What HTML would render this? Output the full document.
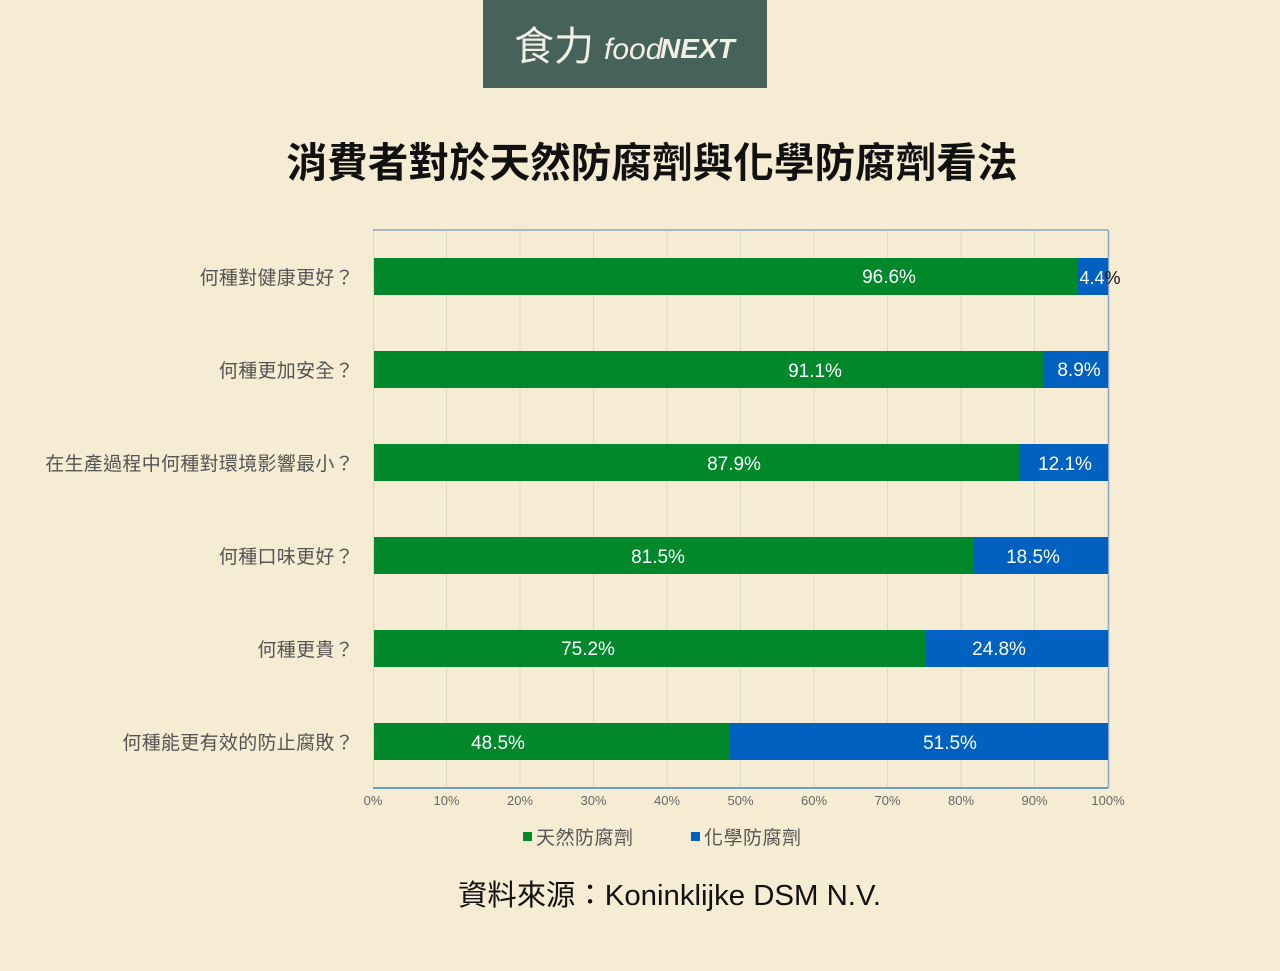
<!DOCTYPE html>
<html><head><meta charset="utf-8"><style>
html,body{margin:0;padding:0;background:#f6ecd3;}
svg{display:block;}
text{font-family:"Liberation Sans","Noto Sans CJK TC",sans-serif;}
</style></head><body>
<svg width="1280" height="971" viewBox="0 0 1280 971" xmlns="http://www.w3.org/2000/svg">
<rect width="1280" height="971" fill="#f6ecd3"/>
<rect x="483" y="0" width="284" height="88" fill="#46625a"/>
<text x="514" y="60" font-family="Noto Serif CJK SC,serif" font-size="40" fill="#f3efe6">食力</text>
<text x="604" y="59" font-size="30" font-style="italic" fill="#f3efe6" font-family="Liberation Serif,serif">food</text>
<text x="660" y="58" font-size="28" font-weight="bold" font-style="italic" fill="#f3efe6">NEXT</text>
<text x="652" y="177" text-anchor="middle" font-size="41" font-weight="bold" fill="#111" textLength="731" lengthAdjust="spacingAndGlyphs">消費者對於天然防腐劑與化學防腐劑看法</text>
<g stroke="#dcd8cc" stroke-width="1">
<line x1="446.5" y1="230" x2="446.5" y2="788"/><line x1="520" y1="230" x2="520" y2="788"/><line x1="593.5" y1="230" x2="593.5" y2="788"/><line x1="667" y1="230" x2="667" y2="788"/><line x1="740.5" y1="230" x2="740.5" y2="788"/><line x1="814" y1="230" x2="814" y2="788"/><line x1="887.5" y1="230" x2="887.5" y2="788"/><line x1="961" y1="230" x2="961" y2="788"/><line x1="1034.5" y1="230" x2="1034.5" y2="788"/>
<line x1="373.5" y1="230" x2="373.5" y2="788"/>
</g>
<line x1="373" y1="230" x2="1108" y2="230" stroke="#8aa6c4" stroke-width="1.5"/>
<line x1="1108.5" y1="230" x2="1108.5" y2="788" stroke="#8aa6c4" stroke-width="1.5"/>
<line x1="373" y1="788" x2="1108" y2="788" stroke="#3d82d0" stroke-width="1.5"/>
<g font-size="19" fill="#fff" text-anchor="middle">
<rect x="374" y="258" width="703" height="37" fill="#00882b"/><rect x="1077" y="258" width="31" height="37" fill="#0061c0"/>
<text x="889" y="283">96.6%</text><text x="1100" y="284" font-size="18">4.4<tspan fill="#111">%</tspan></text>
<rect x="374" y="351" width="669" height="37" fill="#00882b"/><rect x="1043" y="351" width="65" height="37" fill="#0061c0"/>
<text x="815" y="377">91.1%</text><text x="1079" y="376">8.9%</text>
<rect x="374" y="444" width="646" height="37" fill="#00882b"/><rect x="1020" y="444" width="88" height="37" fill="#0061c0"/>
<text x="734" y="470">87.9%</text><text x="1065" y="470">12.1%</text>
<rect x="374" y="537" width="599" height="37" fill="#00882b"/><rect x="973" y="537" width="135" height="37" fill="#0061c0"/>
<text x="658" y="563">81.5%</text><text x="1033" y="563">18.5%</text>
<rect x="374" y="630" width="552" height="37" fill="#00882b"/><rect x="926" y="630" width="182" height="37" fill="#0061c0"/>
<text x="588" y="655">75.2%</text><text x="999" y="655">24.8%</text>
<rect x="374" y="723" width="356" height="37" fill="#00882b"/><rect x="730" y="723" width="378" height="37" fill="#0061c0"/>
<text x="498" y="749">48.5%</text><text x="950" y="749">51.5%</text>
</g>
<g font-size="19" fill="#555" text-anchor="end" letter-spacing="0.3">
<text x="354" y="284">何種對健康更好？</text>
<text x="354" y="377">何種更加安全？</text>
<text x="354" y="470">在生產過程中何種對環境影響最小？</text>
<text x="354" y="563">何種口味更好？</text>
<text x="354" y="656">何種更貴？</text>
<text x="354" y="749">何種能更有效的防止腐敗？</text>
</g>
<g font-size="13" fill="#666" text-anchor="middle">
<text x="373" y="805">0%</text><text x="446.5" y="805">10%</text><text x="520" y="805">20%</text><text x="593.5" y="805">30%</text><text x="667" y="805">40%</text><text x="740.5" y="805">50%</text><text x="814" y="805">60%</text><text x="887.5" y="805">70%</text><text x="961" y="805">80%</text><text x="1034.5" y="805">90%</text><text x="1108" y="805">100%</text>
</g>
<rect x="523" y="832" width="9" height="9" fill="#00882b"/>
<text x="536" y="844" font-size="19" fill="#555" textLength="97">天然防腐劑</text>
<rect x="691" y="832" width="9" height="9" fill="#0061c0"/>
<text x="704" y="844" font-size="19" fill="#555" textLength="97">化學防腐劑</text>
<text x="458" y="905" font-size="29" fill="#111" textLength="423" lengthAdjust="spacingAndGlyphs">資料來源：Koninklijke DSM N.V.</text>
</svg>
</body></html>
